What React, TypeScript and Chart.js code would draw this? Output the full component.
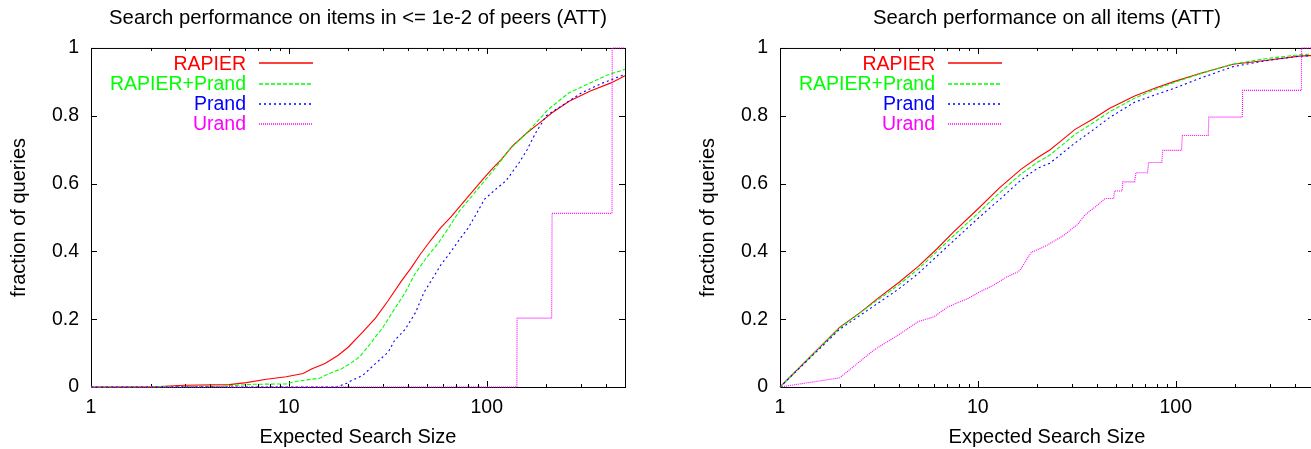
import React, { useEffect, useRef } from 'react';
import { Chart, registerables } from 'chart.js';

Chart.register(...registerables);

const FONT_FAMILY = '"Liberation Sans", Arial, Helvetica, sans-serif';
const FONT_SIZE = 19.5;
const TITLE_SIZE = 20.3;
const AXIS_TITLE_SIZE = 20;

const seriesNames = ['RAPIER', 'RAPIER+Prand', 'Prand', 'Urand'];
const seriesColors = ['#ff0000', '#00ff00', '#0000ff', '#ff00ff'];
const seriesDashes: number[][] = [[], [4, 2], [2, 3], [1, 1]];

const xMajorTicks = [1, 10, 100];
const xMinorTicks = [2, 3, 4, 5, 6, 7, 8, 9, 20, 30, 40, 50, 60, 70, 80, 90, 200, 300, 400, 500];
const yTicks = [0, 0.2, 0.4, 0.6, 0.8, 1];

const leftTitle = 'Search performance on items in <= 1e-2 of peers (ATT)';
const rightTitle = 'Search performance on all items (ATT)';
const xAxisTitle = 'Expected Search Size';
const yAxisTitle = 'fraction of queries';

// ---- Left panel: items in <= 1e-2 of peers ----
const leftRapierX = [1, 2, 2.95, 5, 6.1, 7.7, 9.7, 11.8, 13.1, 14.3, 15.3, 17.7, 20, 23.6, 27.4, 31.8, 36.8, 41.6, 46, 52, 58.6, 66, 73, 84, 97.5, 108, 119, 135, 160, 185, 214, 261, 334, 425, 500];
const leftRapierY = [0, 0, 0.005, 0.007, 0.013, 0.023, 0.03, 0.04, 0.054, 0.063, 0.07, 0.093, 0.118, 0.162, 0.203, 0.255, 0.31, 0.352, 0.39, 0.432, 0.47, 0.502, 0.532, 0.574, 0.618, 0.647, 0.672, 0.711, 0.75, 0.779, 0.809, 0.843, 0.873, 0.897, 0.918];

const leftGreenX = [1, 4.5, 6.6, 9.7, 11, 12.3, 14.3, 16, 18.5, 20.4, 22.8, 26, 28.2, 29.6, 33.5, 38.7, 43, 49.4, 57, 64.6, 73, 84.4, 97.5, 112.7, 130, 160, 204, 261, 334, 407, 500];
const leftGreenY = [0, 0.002, 0.008, 0.009, 0.017, 0.021, 0.026, 0.04, 0.054, 0.069, 0.089, 0.13, 0.158, 0.172, 0.222, 0.278, 0.33, 0.38, 0.425, 0.472, 0.52, 0.564, 0.608, 0.652, 0.7, 0.75, 0.818, 0.868, 0.897, 0.92, 0.937];

const leftBlueX = [1, 17.5, 19.6, 20.4, 23.6, 27.4, 31.8, 34.2, 38.7, 43.7, 48.3, 54.6, 58.6, 64.6, 73, 80.8, 89.5, 97.5, 111, 125, 146, 160, 177, 200, 237, 302, 387, 500];
const leftBlueY = [0, 0, 0.011, 0.017, 0.034, 0.069, 0.103, 0.137, 0.17, 0.22, 0.28, 0.33, 0.36, 0.392, 0.436, 0.47, 0.515, 0.554, 0.583, 0.608, 0.662, 0.7, 0.75, 0.8, 0.828, 0.868, 0.897, 0.922];

const leftUrandX = [1, 142, 142.5, 213, 214, 430, 431, 500];
const leftUrandY = [0, 0, 0.203, 0.203, 0.512, 0.512, 1, 1];

// ---- Right panel: all items ----
const rightRapierX = [1, 2, 2.55, 3.1, 4, 5, 6.2, 7.5, 10, 12.9, 16.5, 20, 23.1, 25.6, 31, 38, 46.4, 62, 79, 97, 135, 195, 283, 423, 500];
const rightRapierY = [0, 0.176, 0.22, 0.26, 0.309, 0.356, 0.407, 0.456, 0.525, 0.588, 0.642, 0.676, 0.699, 0.72, 0.76, 0.79, 0.822, 0.858, 0.882, 0.9, 0.926, 0.952, 0.963, 0.976, 0.978];

const rightGreenX = [1, 2, 3, 4, 5, 7.5, 10, 13, 16.5, 20, 23.1, 31, 38, 46.4, 62, 79, 97, 135, 195, 283, 423, 500];
const rightGreenY = [0, 0.174, 0.25, 0.302, 0.348, 0.445, 0.512, 0.575, 0.628, 0.663, 0.684, 0.745, 0.778, 0.812, 0.852, 0.878, 0.897, 0.925, 0.953, 0.968, 0.98, 0.982];

const rightBlueX = [1, 2, 3, 4, 5, 7.5, 10, 13, 16.5, 20, 23.1, 31, 38, 46.4, 62, 79, 97, 135, 195, 283, 423, 500];
const rightBlueY = [0, 0.17, 0.24, 0.29, 0.335, 0.43, 0.497, 0.555, 0.61, 0.645, 0.66, 0.72, 0.757, 0.795, 0.84, 0.862, 0.88, 0.912, 0.945, 0.962, 0.976, 0.977];

const rightUrandX = [1, 2, 3, 4, 5, 6, 7, 8, 9, 10, 12, 14, 16, 16.5, 18.6, 20, 22.2, 24.4, 27, 29.8, 32, 34.5, 37, 39.8, 44, 48.6, 49, 53.6, 54, 62, 63, 72, 73, 85, 86, 107, 108, 146, 147, 217, 218, 432, 433, 500];
const rightUrandY = [0, 0.027, 0.11, 0.155, 0.193, 0.207, 0.235, 0.25, 0.262, 0.278, 0.3, 0.325, 0.34, 0.348, 0.397, 0.405, 0.417, 0.431, 0.446, 0.466, 0.48, 0.505, 0.52, 0.534, 0.556, 0.556, 0.578, 0.578, 0.605, 0.605, 0.632, 0.632, 0.662, 0.662, 0.698, 0.698, 0.742, 0.742, 0.796, 0.796, 0.875, 0.875, 1, 1];

const leftSeries = [
  { x: leftRapierX, y: leftRapierY },
  { x: leftGreenX, y: leftGreenY },
  { x: leftBlueX, y: leftBlueY },
  { x: leftUrandX, y: leftUrandY },
];
const rightSeries = [
  { x: rightRapierX, y: rightRapierY },
  { x: rightGreenX, y: rightGreenY },
  { x: rightBlueX, y: rightBlueY },
  { x: rightUrandX, y: rightUrandY },
];

const font = { family: FONT_FAMILY, size: FONT_SIZE, weight: 'normal' as const };
const titleFont = { family: FONT_FAMILY, size: TITLE_SIZE, weight: 'normal' as const };
const axisTitleFont = { family: FONT_FAMILY, size: AXIS_TITLE_SIZE, weight: 'normal' as const };

const framePlugin = {
  id: 'gnuplotFrame',
  beforeDatasetsDraw(chart: any) {
    const { ctx, chartArea } = chart;
    const { left, right, top, bottom } = chartArea;
    const xs = chart.scales.x;
    const ys = chart.scales.y;
    ctx.save();
    ctx.strokeStyle = '#000';
    ctx.lineWidth = 1;
    ctx.setLineDash([]);
    ctx.beginPath();
    const major = 6;
    const minor = 3;
    yTicks.forEach((v) => {
      const py = Math.round(ys.getPixelForValue(v)) + 0.5;
      ctx.moveTo(left, py);
      ctx.lineTo(left + major, py);
      ctx.moveTo(right, py);
      ctx.lineTo(right - major, py);
    });
    xMajorTicks.forEach((v) => {
      const px = Math.round(xs.getPixelForValue(v)) + 0.5;
      ctx.moveTo(px, bottom);
      ctx.lineTo(px, bottom - major);
      ctx.moveTo(px, top);
      ctx.lineTo(px, top + major);
    });
    xMinorTicks.forEach((v) => {
      const px = Math.round(xs.getPixelForValue(v)) + 0.5;
      ctx.moveTo(px, bottom);
      ctx.lineTo(px, bottom - minor);
      ctx.moveTo(px, top);
      ctx.lineTo(px, top + minor);
    });
    ctx.stroke();
    ctx.strokeRect(left + 0.5, top + 0.5, right - left, bottom - top);
    ctx.restore();
  },
  afterDatasetsDraw(chart: any) {
    const { ctx, chartArea } = chart;
    const { left, top } = chartArea;
    ctx.save();
    ctx.font = `${FONT_SIZE}px ${FONT_FAMILY}`;
    ctx.textAlign = 'right';
    ctx.textBaseline = 'middle';
    chart.data.datasets.forEach((ds: any, i: number) => {
      const y = top + 15.5 + 20.2 * i;
      ctx.fillStyle = ds.borderColor;
      ctx.fillText(ds.label, left + 155, y + 1);
      ctx.strokeStyle = ds.borderColor;
      ctx.lineWidth = 1.4;
      ctx.setLineDash(ds.borderDash || []);
      ctx.beginPath();
      ctx.moveTo(left + 168, Math.round(y));
      ctx.lineTo(left + 222, Math.round(y));
      ctx.stroke();
    });
    ctx.restore();
  },
};

function Panel({ title, series, left }: { title: string; series: { x: number[]; y: number[] }[]; left: number }) {
  const ref = useRef<HTMLCanvasElement | null>(null);
  useEffect(() => {
    if (!ref.current) return;
    const datasets = series.map((s, i) => ({
      label: seriesNames[i],
      data: s.x.map((x, j) => ({ x, y: s.y[j] })),
      borderColor: seriesColors[i],
      backgroundColor: seriesColors[i],
      borderDash: seriesDashes[i],
      borderWidth: 1.1,
      pointRadius: 0,
      fill: false,
      tension: 0,
      clip: 3,
      order: 3 - i,
    }));
    const chart = new Chart(ref.current, {
      type: 'line',
      data: { datasets },
      plugins: [framePlugin],
      options: {
        responsive: false,
        maintainAspectRatio: false,
        animation: false,
        devicePixelRatio: 1,
        layout: { padding: 0 },
        plugins: {
          legend: { display: false },
          tooltip: { enabled: false },
          title: {
            display: true,
            text: title,
            color: '#000',
            font: titleFont,
            padding: { top: 6, bottom: 17.6 },
          },
        },
        scales: {
          x: {
            type: 'logarithmic',
            min: 1,
            max: 500,
            grid: { display: false, drawTicks: false },
            border: { display: false },
            ticks: {
              color: '#000',
              font,
              padding: 9,
              autoSkip: false,
              maxRotation: 0,
              callback: (v: any) => String(v),
            },
            afterBuildTicks: (s: any) => {
              s.ticks = xMajorTicks.map((v) => ({ value: v }));
            },
            afterFit: (s: any) => {
              s.height = 62;
            },
            title: {
              display: true,
              text: xAxisTitle,
              color: '#000',
              font: axisTitleFont,
              padding: { top: 0, bottom: 0 },
            },
          },
          y: {
            type: 'linear',
            min: 0,
            max: 1,
            grid: { display: false, drawTicks: false },
            border: { display: false },
            ticks: {
              color: '#000',
              font,
              padding: 12,
              callback: (v: any) => String(v),
            },
            afterBuildTicks: (s: any) => {
              s.ticks = yTicks.map((v) => ({ value: v }));
            },
            afterFit: (s: any) => {
              s.width = 91;
            },
            title: {
              display: true,
              text: yAxisTitle,
              color: '#000',
              font: axisTitleFont,
              padding: { top: 7.5, bottom: 0 },
            },
          },
          yRight: {
            type: 'linear',
            position: 'right',
            display: true,
            grid: { display: false, drawTicks: false },
            border: { display: false },
            ticks: { display: false },
            afterFit: (s: any) => {
              s.width = 91;
            },
          },
        },
      } as any,
    });
    return () => chart.destroy();
  }, [title, series]);
  return (
    <div style={{ position: 'absolute', left, top: 0, width: 716, height: 449 }}>
      <canvas ref={ref} width={716} height={449} style={{ display: 'block', width: 716, height: 449 }} />
    </div>
  );
}

export default function App() {
  return (
    <div
      style={{
        position: 'fixed',
        left: 0,
        top: 0,
        width: 1311,
        height: 449,
        overflow: 'hidden',
        background: '#fff',
      }}
    >
      <Panel title={leftTitle} series={leftSeries} left={0} />
      <Panel title={rightTitle} series={rightSeries} left={689} />
    </div>
  );
}
